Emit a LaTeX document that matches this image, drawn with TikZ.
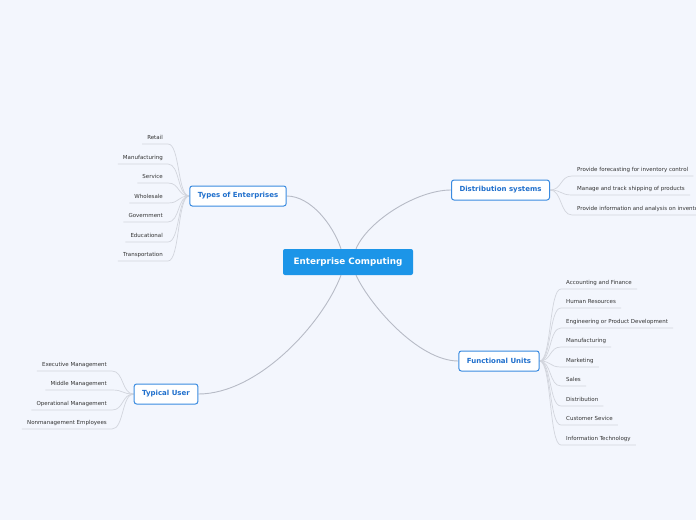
\documentclass[tikz,border=0pt]{standalone}
\usepackage{fontspec}
\setmainfont{DejaVu Sans}
\usetikzlibrary{calc, backgrounds}
\definecolor{mapbg}{HTML}{F3F6FD}
\definecolor{mapblue}{HTML}{1C95E8}
\definecolor{mapedge}{HTML}{3A8BE0}
\definecolor{maptext}{HTML}{1F6FCC}
\definecolor{mapline}{HTML}{B7BBC6}
\definecolor{leafline}{HTML}{D2D5DD}
\definecolor{leaftext}{HTML}{333333}

\begin{document}
\begin{tikzpicture}[
        x=1pt, y=-1pt,
        root/.style={rectangle, rounded corners=2pt, fill=mapblue, text=white,
            font=\fontsize{8.8}{10}\selectfont\bfseries, minimum width=130pt,
            minimum height=26pt},
        topic/.style={rectangle, draw=mapedge, line width=1pt, rounded corners=2.5pt,
            fill=white, text=maptext, font=\fontsize{7}{8}\selectfont\bfseries,
            minimum height=20pt, inner xsep=8pt},
        leaf/.style={font=\fontsize{5.5}{6}\selectfont, text=leaftext, inner xsep=5pt,
            inner ysep=3.5pt, text height=4pt, text depth=1pt},
        branch/.style={draw=mapline, line width=0.9pt},
        twig/.style={draw=leafline, line width=0.7pt},
        ]
        % Canvas
        \useasboundingbox (0,-1) rectangle (696,519);
        \clip (0,-1) rectangle (696,519);

        % Main topics
        \node[root] (root) at (348,261) {Enterprise Computing};
        \node[topic] (types) at (238,195) {Types of Enterprises};
        \node[topic] (dist) at (500.5,189) {Distribution systems};
        \node[topic] (func) at (499,360) {Functional Units};
        \node[topic] (user) at (166,393) {Typical User};

        % Types of Enterprises
        \node[leaf, anchor=south east] (ret) at (168,143) {Retail};
        \node[leaf, anchor=south east] (man) at (168,163) {Manufacturing};
        \node[leaf, anchor=south east] (ser) at (168,182) {Service};
        \node[leaf, anchor=south east] (who) at (168,202) {Wholesale};
        \node[leaf, anchor=south east] (gov) at (168,221) {Government};
        \node[leaf, anchor=south east] (edu) at (168,241) {Educational};
        \node[leaf, anchor=south east] (tra) at (168,260) {Transportation};

        % Distribution systems
        \node[leaf, anchor=south west] (fore) at (572,175) {Provide forecasting for inventory control};
        \node[leaf, anchor=south west] (ship) at (572,194) {Manage and track shipping of products};
        \node[leaf, anchor=south west] (info) at (572,214) {Provide information and analysis on inventory};

        % Functional Units
        \node[leaf, anchor=south west] (acc) at (561,288) {Accounting and Finance};
        \node[leaf, anchor=south west] (hr) at (561,307) {Human Resources};
        \node[leaf, anchor=south west] (eng) at (561,327) {Engineering or Product Development};
        \node[leaf, anchor=south west] (mfg) at (561,346) {Manufacturing};
        \node[leaf, anchor=south west] (mkt) at (561,366) {Marketing};
        \node[leaf, anchor=south west] (sal) at (561,385) {Sales};
        \node[leaf, anchor=south west] (dis) at (561,405) {Distribution};
        \node[leaf, anchor=south west] (cus) at (561,424) {Customer Sevice};
        \node[leaf, anchor=south west] (it) at (561,444) {Information Technology};

        % Typical User
        \node[leaf, anchor=south east] (exe) at (112,370) {Executive Management};
        \node[leaf, anchor=south east] (mid) at (112,389) {Middle Management};
        \node[leaf, anchor=south east] (ope) at (112,409) {Operational Management};
        \node[leaf, anchor=south east] (non) at (112,428) {Nonmanagement Employees};

        \begin{scope}[on background layer]
            \fill[mapbg] (0,-1) rectangle (696,519);

            % Branches from the centre
            \draw[branch] (types.east) .. controls +(24,0) and +(-8,-24) .. ($(root.north)+(-7,0)$);
            \draw[branch] ($(root.north)+(8,0)$) .. controls +(12,-28) and +(-34,0) .. (dist.west);
            \draw[branch] ($(root.south)+(8,0)$) .. controls +(14,30) and +(-40,0) .. (func.west);
            \draw[branch] ($(root.south)+(-7,0)$) .. controls +(-18,48) and +(60,0) .. (user.east);

            % Twigs to the leaves
            \foreach \n in {ret,man,ser,who,gov,edu,tra}
                \draw[twig] (\n.south west) -- (\n.south east)
                    .. controls +(12,0) and +(-12,0) .. (types.west);
            \foreach \n in {fore,ship,info}
                \draw[twig] (dist.east) .. controls +(12,0) and +(-12,0) .. (\n.south west)
                    -- (\n.south east);
            \foreach \n in {acc,hr,eng,mfg,mkt,sal,dis,cus,it}
                \draw[twig] (func.east) .. controls +(12,0) and +(-12,0) .. (\n.south west)
                    -- (\n.south east);
            \foreach \n in {exe,mid,ope,non}
                \draw[twig] (\n.south west) -- (\n.south east)
                    .. controls +(12,0) and +(-12,0) .. (user.west);
        \end{scope}
    \end{tikzpicture}
\end{document}
